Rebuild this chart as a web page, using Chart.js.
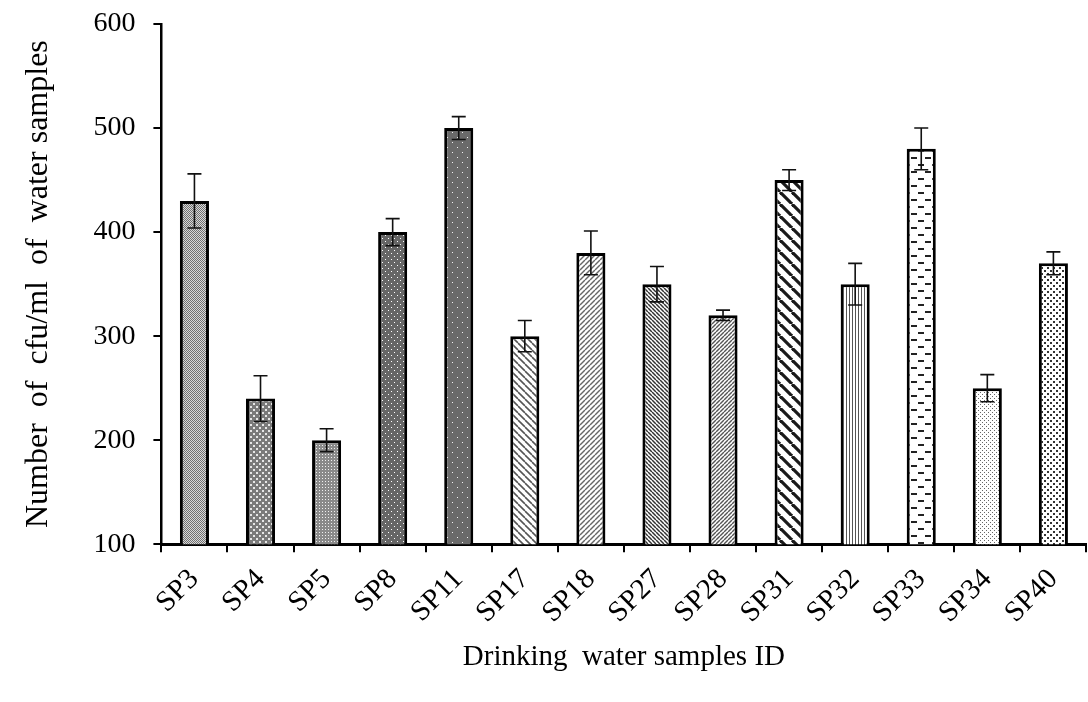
<!DOCTYPE html>
<html>
<head>
<meta charset="utf-8">
<script src="https://cdn.jsdelivr.net/npm/chart.js@4.4.1/dist/chart.umd.min.js"></script>
<style>
  html, body { margin: 0; padding: 0; background: #fff; }
  #wrap { width: 1088px; height: 702px; }
</style>
</head>
<body>
<div id="wrap"><canvas id="cfuChart"></canvas></div>
<script>
// sample IDs and counts
var samples = ['SP3', 'SP4', 'SP5', 'SP8', 'SP11', 'SP17', 'SP18', 'SP27', 'SP28', 'SP31', 'SP32', 'SP33', 'SP34', 'SP40'];
var cfuCounts = [430, 240, 200, 400, 500, 300, 380, 350, 320, 450, 350, 480, 250, 370];
var cfuErrors = [26, 22, 11, 13, 11, 15, 21, 17, 5, 10, 20, 20, 13, 11];
var yTicks = [100, 200, 300, 400, 500, 600];
var fillKinds = ['check', 'diamond', 'fineDots', 'darkDots', 'sparseDots', 'diagDownWide', 'diagUp',
                 'diagDownDense', 'diagUpDense', 'diagDownBold', 'vertical', 'dashes', 'smallDots', 'bigDots'];

function tile(size, draw) {
    var c = document.createElement('canvas');
    c.width = size; c.height = size;
    var g = c.getContext('2d');
    draw(g, size);
    return g.createPattern(c, 'repeat');
}

function diag(g, s, dir, color, width) {
    g.strokeStyle = color;
    g.lineWidth = width;
    for (var k = -1; k <= 1; k++) {
        g.beginPath();
        if (dir > 0) { g.moveTo(k * s, s); g.lineTo(k * s + s, 0); }
        else { g.moveTo(k * s, 0); g.lineTo(k * s + s, s); }
        g.stroke();
    }
}

function makePattern(kind) {
    switch (kind) {
    case 'check':
        return tile(2, function (g) {
            g.fillStyle = '#d8d8d8'; g.fillRect(0, 0, 2, 2);
            g.fillStyle = '#707070'; g.fillRect(0, 0, 1, 1); g.fillRect(1, 1, 1, 1);
        });
    case 'diamond':
        return tile(6, function (g) {
            g.fillStyle = '#7a7a7a'; g.fillRect(0, 0, 6, 6);
            g.fillStyle = '#e6e6e6';
            g.fillRect(1, 1, 2, 2); g.fillRect(4, 4, 2, 2);
        });
    case 'fineDots':
        return tile(3, function (g) {
            g.fillStyle = '#8a8a8a'; g.fillRect(0, 0, 3, 3);
            g.fillStyle = '#f0f0f0'; g.fillRect(1, 1, 1, 1);
        });
    case 'darkDots':
        return tile(6, function (g) {
            g.fillStyle = '#666'; g.fillRect(0, 0, 6, 6);
            g.fillStyle = '#ffffff'; g.fillRect(1, 1, 1, 1); g.fillRect(4, 4, 1, 1);
        });
    case 'sparseDots':
        return tile(10, function (g) {
            g.fillStyle = '#6a6a6a'; g.fillRect(0, 0, 10, 10);
            g.fillStyle = '#f4f4f4'; g.fillRect(2, 2, 1, 1); g.fillRect(7, 7, 1, 1);
        });
    case 'diagDownWide':
        return tile(7, function (g, s) {
            g.fillStyle = '#fff'; g.fillRect(0, 0, s, s);
            diag(g, s, -1, '#555', 1.6);
        });
    case 'diagUp':
        return tile(5, function (g, s) {
            g.fillStyle = '#fff'; g.fillRect(0, 0, s, s);
            diag(g, s, 1, '#666', 1.4);
        });
    case 'diagDownDense':
        return tile(4, function (g, s) {
            g.fillStyle = '#fff'; g.fillRect(0, 0, s, s);
            diag(g, s, -1, '#333', 1.5);
        });
    case 'diagUpDense':
        return tile(4, function (g, s) {
            g.fillStyle = '#fff'; g.fillRect(0, 0, s, s);
            diag(g, s, 1, '#555', 1.4);
        });
    case 'diagDownBold':
        return tile(12, function (g, s) {
            g.fillStyle = '#fff'; g.fillRect(0, 0, s, s);
            diag(g, s, -1, '#1a1a1a', 3.2);
        });
    case 'vertical':
        return tile(3, function (g) {
            g.fillStyle = '#fff'; g.fillRect(0, 0, 3, 3);
            g.fillStyle = '#555'; g.fillRect(0, 0, 1, 3);
        });
    case 'dashes':
        return tile(14, function (g) {
            g.fillStyle = '#fff'; g.fillRect(0, 0, 14, 14);
            g.fillStyle = '#222';
            g.fillRect(1, 3, 6, 2); g.fillRect(8, 10, 6, 2);
        });
    case 'smallDots':
        return tile(4, function (g) {
            g.fillStyle = '#fff'; g.fillRect(0, 0, 4, 4);
            g.fillStyle = '#666'; g.fillRect(0, 0, 1, 1); g.fillRect(2, 2, 1, 1);
        });
    case 'bigDots':
        return tile(6, function (g) {
            g.fillStyle = '#fff'; g.fillRect(0, 0, 6, 6);
            g.fillStyle = '#333'; g.fillRect(0, 0, 2, 2); g.fillRect(3, 3, 2, 2);
        });
    }
    return '#999';
}

var errorBars = {
    id: 'errorBars',
    afterDatasetsDraw: function (chart) {
        var meta = chart.getDatasetMeta(0);
        var y = chart.scales.y;
        var ctx = chart.ctx;
        ctx.save();
        ctx.strokeStyle = '#111';
        ctx.lineWidth = 1.6;
        meta.data.forEach(function (bar, i) {
            var top = y.getPixelForValue(cfuCounts[i] + cfuErrors[i]);
            var bot = y.getPixelForValue(cfuCounts[i] - cfuErrors[i]);
            ctx.beginPath();
            ctx.moveTo(bar.x, top); ctx.lineTo(bar.x, bot);
            ctx.moveTo(bar.x - 7, top); ctx.lineTo(bar.x + 7, top);
            ctx.moveTo(bar.x - 7, bot); ctx.lineTo(bar.x + 7, bot);
            ctx.stroke();
        });
        ctx.restore();
    }
};

var serif = 'Liberation Serif';

new Chart(document.getElementById('cfuChart'), {
    type: 'bar',
    data: {
        labels: samples,
        datasets: [{
            data: cfuCounts,
            backgroundColor: fillKinds.map(makePattern),
            borderColor: '#000',
            borderWidth: 3,
            borderSkipped: false,
            barPercentage: 0.44,
            categoryPercentage: 1
        }]
    },
    options: {
        responsive: true,
        maintainAspectRatio: false,
        animation: false,
        layout: { padding: { top: 24, right: 0, left: 15, bottom: 27 } },
        plugins: { legend: { display: false }, tooltip: { enabled: false } },
        scales: {
            x: {
                grid: { drawOnChartArea: false, color: '#000', lineWidth: 2, tickLength: 8 },
                border: { color: '#000', width: 3 },
                ticks: { color: '#000', font: { family: serif, size: 29 }, minRotation: 45, maxRotation: 45, padding: 10 },
                title: { display: true, text: 'Drinking  water samples ID', color: '#000',
                         font: { family: serif, size: 29 }, padding: 0 }
            },
            y: {
                min: 100,
                max: 600,
                afterBuildTicks: function (axis) { axis.ticks = yTicks.map(function (v) { return { value: v }; }); },
                grid: { drawOnChartArea: false, color: '#000', lineWidth: 2, tickLength: 8 },
                border: { color: '#000', width: 2.5 },
                ticks: { color: '#000', font: { family: serif, size: 28, lineHeight: 1 }, padding: 4,
                         callback: function (v) { return v + '  '; } },
                title: { display: true, text: 'Number  of  cfu/ml  of  water samples', color: '#000',
                         font: { family: serif, size: 32 }, padding: { bottom: 32 } }
            }
        }
    },
    plugins: [errorBars]
});
</script>
</body>
</html>
